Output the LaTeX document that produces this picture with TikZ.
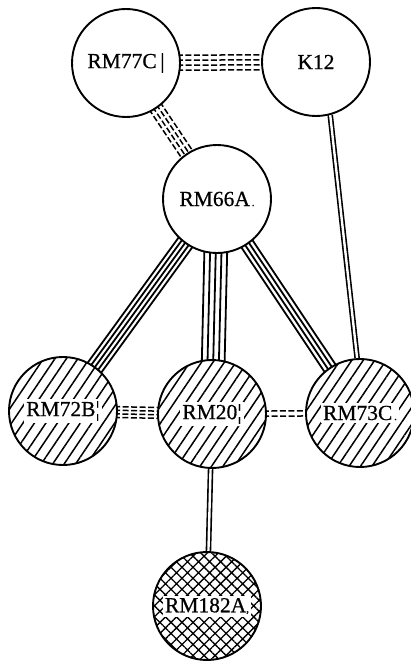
\documentclass[tikz,border=0pt]{standalone}
\usepackage{fontspec}
\setmainfont{Liberation Serif}
\usetikzlibrary{calc,patterns.meta}
\pgfdeclarelayer{background}
\pgfsetlayers{background,main}
\newcommand\parlines[4]{%
  \foreach \o in {#3}{%
    \draw[#4] ($(#1.center)!\o!90:(#2.center)$) -- ($(#2.center)!\o!-90:(#1.center)$);
  }%
}
\newcommand\tinymark[1]{{\fontsize{11}{11}\selectfont #1}}
\newcommand\labelfont{\fontsize{21.5}{21.5}\selectfont\addfontfeatures{FakeBold=0.6}}
\tikzset{
  vnode/.style={circle, draw, line width=1.9pt, minimum size=108pt, inner sep=0pt,
    fill=white, font=\labelfont},
  hatched/.style={vnode, preaction={fill=white},
    pattern={Lines[angle=56,distance=9.5pt,line width=1.5pt]}},
  crossed/.style={vnode, preaction={fill=white},
    pattern={Hatch[angle=45,distance=7.8pt,line width=1.3pt]}},
  tag/.style={fill=white, inner sep=2.5pt, font=\labelfont},
  dashline/.style={line width=1.5pt, dash pattern=on 6pt off 2.5pt},
  solidline/.style={line width=1.8pt},
  twoline/.style={double, line width=1.6pt, double distance=2.4pt},
}
\begin{document}
\begin{tikzpicture}[x=1pt,y=-1pt]
\useasboundingbox (0,0) rectangle (410,661);
\node[vnode] (RM77C) at (126,63) {RM77C\,|};
\node[vnode] (K12) at (316,62) {K12};
\node[vnode] (RM66A) at (217,199) {RM66A\tinymark{\,.}};
\node[hatched, label={[tag]center:RM72B¦}] (RM72B) at (63,411) {};
\node[hatched, label={[tag]center:RM20¦}] (RM20) at (212,414) {};
\node[hatched, label={[tag]center:RM73C\tinymark{\,.}}] (RM73C) at (360,413) {};
\node[crossed, label={[tag]center:RM182A\tinymark{,}}] (RM182A) at (207,606) {};
\begin{pgfonlayer}{background}
  \parlines{RM77C}{K12}{-7.5pt,-2.5pt,2.5pt,7.5pt}{dashline}
  \parlines{RM77C}{RM66A}{-6.6pt,-2.2pt,2.2pt,6.6pt}{dashline}
  \parlines{RM66A}{RM72B}{-8.4pt,-4.2pt,0pt,4.2pt,8.4pt}{solidline}
  \parlines{RM66A}{RM20}{-11.4pt,-5.7pt,0pt,5.7pt,11.4pt}{solidline}
  \parlines{RM66A}{RM73C}{-6.6pt,-2.2pt,2.2pt,6.6pt}{solidline}
  \parlines{RM72B}{RM20}{-5.4pt,-1.8pt,1.8pt,5.4pt}{dashline}
  \parlines{RM20}{RM73C}{-2.6pt,2.6pt}{dashline}
  \draw[twoline] (K12.-75.7) -- (RM73C.93);
  \draw[twoline] (RM20) -- (RM182A);
\end{pgfonlayer}
\end{tikzpicture}
\end{document}
